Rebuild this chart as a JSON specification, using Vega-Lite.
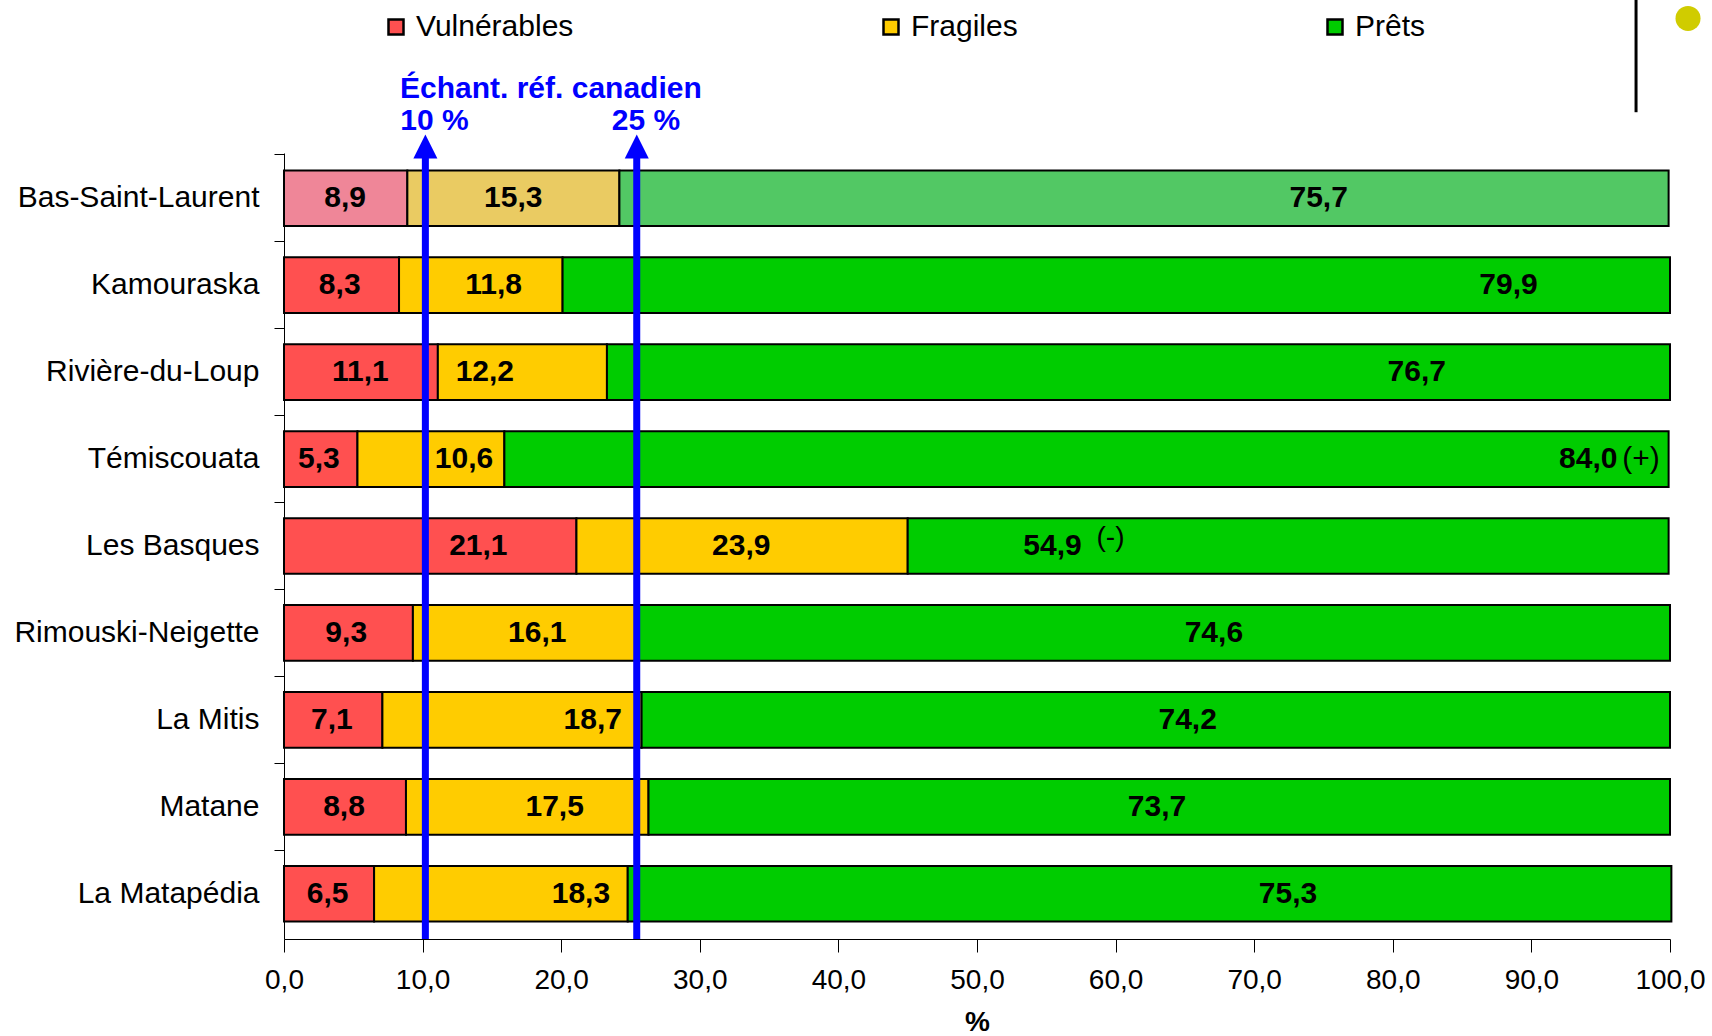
{
  "$schema": "https://vega.github.io/schema/vega-lite/v6.json",
  "width": 1386,
  "height": 786,
  "autosize": {"type": "none"},
  "padding": {"left": 284, "top": 153, "right": 42, "bottom": 97},
  "background": "white",
  "config": {
    "view": {"stroke": null},
    "font": "Liberation Sans",
    "locale": {"number": {"decimal": ",", "thousands": " ", "grouping": [3], "currency": ["", " $"]}}
  },
  "datasets": {
    "parts": [
      {"region": "Bas-Saint-Laurent", "cat": "Vulnérables", "k": 1, "value": 8.9, "lx": 4.41},
      {"region": "Bas-Saint-Laurent", "cat": "Fragiles", "k": 2, "value": 15.3, "lx": 16.54},
      {"region": "Bas-Saint-Laurent", "cat": "Prêts", "k": 3, "value": 75.7, "lx": 74.65},
      {"region": "Kamouraska", "cat": "Vulnérables", "k": 1, "value": 8.3, "lx": 4.02},
      {"region": "Kamouraska", "cat": "Fragiles", "k": 2, "value": 11.8, "lx": 15.12},
      {"region": "Kamouraska", "cat": "Prêts", "k": 3, "value": 79.9, "lx": 88.35},
      {"region": "Rivière-du-Loup", "cat": "Vulnérables", "k": 1, "value": 11.1, "lx": 5.51},
      {"region": "Rivière-du-Loup", "cat": "Fragiles", "k": 2, "value": 12.2, "lx": 14.49},
      {"region": "Rivière-du-Loup", "cat": "Prêts", "k": 3, "value": 76.7, "lx": 81.73},
      {"region": "Témiscouata", "cat": "Vulnérables", "k": 1, "value": 5.3, "lx": 2.52},
      {"region": "Témiscouata", "cat": "Fragiles", "k": 2, "value": 10.6, "lx": 12.99},
      {"region": "Témiscouata", "cat": "Prêts", "k": 3, "value": 84.0, "lx": 94.1, "note": "(+)"},
      {"region": "Les Basques", "cat": "Vulnérables", "k": 1, "value": 21.1, "lx": 14.02},
      {"region": "Les Basques", "cat": "Fragiles", "k": 2, "value": 23.9, "lx": 32.99},
      {"region": "Les Basques", "cat": "Prêts", "k": 3, "value": 54.9, "lx": 55.45, "note": "(-)"},
      {"region": "Rimouski-Neigette", "cat": "Vulnérables", "k": 1, "value": 9.3, "lx": 4.49},
      {"region": "Rimouski-Neigette", "cat": "Fragiles", "k": 2, "value": 16.1, "lx": 18.27},
      {"region": "Rimouski-Neigette", "cat": "Prêts", "k": 3, "value": 74.6, "lx": 67.09},
      {"region": "La Mitis", "cat": "Vulnérables", "k": 1, "value": 7.1, "lx": 3.46},
      {"region": "La Mitis", "cat": "Fragiles", "k": 2, "value": 18.7, "lx": 22.28},
      {"region": "La Mitis", "cat": "Prêts", "k": 3, "value": 74.2, "lx": 65.2},
      {"region": "Matane", "cat": "Vulnérables", "k": 1, "value": 8.8, "lx": 4.33},
      {"region": "Matane", "cat": "Fragiles", "k": 2, "value": 17.5, "lx": 19.53},
      {"region": "Matane", "cat": "Prêts", "k": 3, "value": 73.7, "lx": 62.99},
      {"region": "La Matapédia", "cat": "Vulnérables", "k": 1, "value": 6.5, "lx": 3.15},
      {"region": "La Matapédia", "cat": "Fragiles", "k": 2, "value": 18.3, "lx": 21.42},
      {"region": "La Matapédia", "cat": "Prêts", "k": 3, "value": 75.3, "lx": 72.44}
    ],
    "refs": [
      {"ref": 10.2, "pct": "10 %"},
      {"ref": 25.45, "pct": "25 %"}
    ]
  },
  "layer": [
    {
      "data": {"name": "parts"},
      "mark": {"type": "bar", "stroke": "black", "strokeWidth": 2},
      "encoding": {
        "y": {
          "field": "region", "type": "nominal", "sort": null,
          "scale": {"paddingInner": 0.36, "paddingOuter": 0.2},
          "axis": {"title": null, "labelFontSize": 30, "labelColor": "black", "labelPadding": 15, "tickSize": 10, "tickColor": "black", "domainColor": "black", "bandPosition": -0.28, "labelLimit": 400}
        },
        "x": {
          "field": "value", "type": "quantitative", "stack": "zero",
          "scale": {"domain": [0, 100], "nice": false},
          "axis": {"title": "%", "values": [0, 10, 20, 30, 40, 50, 60, 70, 80, 90, 100], "format": ".1f", "grid": false, "labelFontSize": 28, "labelColor": "black", "labelPadding": 14, "labelFlush": false, "labelOverlap": false, "tickSize": 13, "tickColor": "black", "domainColor": "black", "titleFontSize": 28, "titleFontWeight": "bold", "titleColor": "black", "titlePadding": 14}
        },
        "fill": {
          "field": "cat", "type": "nominal",
          "scale": {"domain": ["Vulnérables", "Fragiles", "Prêts"], "range": ["#FF5050", "#FFCC00", "#00CC00"]},
          "condition": [
            {"test": "datum.region === 'Bas-Saint-Laurent' && datum.cat === 'Vulnérables'", "value": "#EF8698"},
            {"test": "datum.region === 'Bas-Saint-Laurent' && datum.cat === 'Fragiles'", "value": "#EACB62"},
            {"test": "datum.region === 'Bas-Saint-Laurent' && datum.cat === 'Prêts'", "value": "#52C864"}
          ],
          "legend": {
            "title": null, "orient": "none", "direction": "horizontal", "legendX": 97, "legendY": -141,
            "symbolType": "square", "symbolSize": 225, "symbolStrokeColor": "black", "symbolStrokeWidth": 2.5,
            "labelFontSize": 30, "labelColor": "black", "labelOffset": 5, "columnPadding": 302, "padding": 0, "labelLimit": 400
          }
        },
        "order": {"field": "k", "type": "quantitative"}
      }
    },
    {
      "data": {"name": "parts"},
      "mark": {"type": "text", "fontSize": 30, "fontWeight": "bold", "color": "black", "baseline": "middle", "align": "center"},
      "encoding": {
        "y": {"field": "region", "type": "nominal", "sort": null},
        "x": {"field": "lx", "type": "quantitative"},
        "text": {"field": "value", "type": "quantitative", "format": ".1f"}
      }
    },
    {
      "data": {"name": "parts"},
      "transform": [{"filter": "datum.note === '(+)'"}],
      "mark": {"type": "text", "fontSize": 30, "color": "black", "baseline": "middle", "align": "left", "dx": 34},
      "encoding": {
        "y": {"field": "region", "type": "nominal", "sort": null},
        "x": {"field": "lx", "type": "quantitative"},
        "text": {"field": "note"}
      }
    },
    {
      "data": {"name": "parts"},
      "transform": [{"filter": "datum.note === '(-)'"}],
      "mark": {"type": "text", "fontSize": 28, "color": "black", "baseline": "middle", "align": "left", "dx": 44, "dy": -8},
      "encoding": {
        "y": {"field": "region", "type": "nominal", "sort": null},
        "x": {"field": "lx", "type": "quantitative"},
        "text": {"field": "note"}
      }
    },
    {
      "data": {"name": "refs"},
      "mark": {"type": "rule", "color": "#0000FF", "strokeWidth": 7},
      "encoding": {
        "x": {"field": "ref", "type": "quantitative"}
      }
    },
    {
      "data": {"name": "refs"},
      "mark": {"type": "point", "shape": "M0,-1L1,1L-1,1Z", "size": 576, "filled": true, "color": "#0000FF", "opacity": 1, "yOffset": -24},
      "encoding": {
        "x": {"field": "ref", "type": "quantitative"},
        "y": {"datum": "Bas-Saint-Laurent", "type": "nominal", "bandPosition": 0}
      }
    },
    {
      "data": {"values": [{"t": "Échant. réf. canadien"}]},
      "mark": {"type": "text", "fontSize": 30, "fontWeight": "bold", "color": "#0000FF", "align": "left", "baseline": "middle", "dy": -81},
      "encoding": {
        "x": {"datum": 8.37, "type": "quantitative"},
        "y": {"datum": "Bas-Saint-Laurent", "type": "nominal", "bandPosition": 0},
        "text": {"field": "t"}
      }
    },
    {
      "data": {"name": "refs"},
      "mark": {"type": "text", "fontSize": 30, "fontWeight": "bold", "color": "#0000FF", "align": "left", "baseline": "middle", "dx": -25, "dy": -49},
      "encoding": {
        "x": {"field": "ref", "type": "quantitative"},
        "y": {"datum": "Bas-Saint-Laurent", "type": "nominal", "bandPosition": 0},
        "text": {"field": "pct"}
      }
    },
    {
      "data": {"values": [{}]},
      "mark": {"type": "rule", "color": "black", "strokeWidth": 3, "yOffset": -172, "y2Offset": -86},
      "encoding": {
        "x": {"datum": 97.55, "type": "quantitative"},
        "y": {"datum": "Bas-Saint-Laurent", "type": "nominal", "bandPosition": 0},
        "y2": {"datum": "Bas-Saint-Laurent"}
      }
    },
    {
      "data": {"values": [{}]},
      "mark": {"type": "point", "shape": "circle", "size": 625, "filled": true, "color": "#D0CC00", "opacity": 1, "yOffset": -152},
      "encoding": {
        "x": {"datum": 101.3, "type": "quantitative"},
        "y": {"datum": "Bas-Saint-Laurent", "type": "nominal", "bandPosition": 0}
      }
    }
  ]
}
